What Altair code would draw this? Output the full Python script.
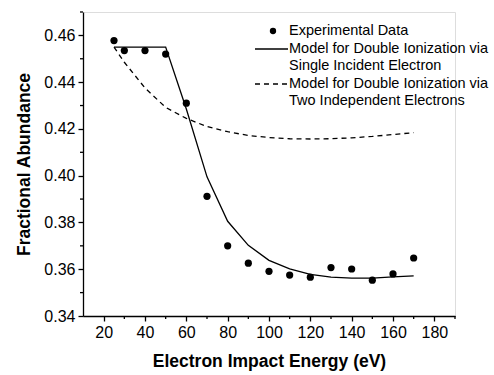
import altair as alt
import pandas as pd

# ---- data ----
energy = [25, 30, 40, 50, 60, 70, 80, 90, 100, 110, 120, 130, 140, 150, 160, 170]
experimental = [0.4578, 0.4535, 0.4535, 0.4520, 0.4310, 0.3912, 0.3700, 0.3626,
                0.3591, 0.3575, 0.3566, 0.3607, 0.3601, 0.3553, 0.3580, 0.3648]

single_x = [25, 50, 60, 70, 80, 90, 100, 110, 120, 130, 140, 150, 160, 170]
single_y = [0.4550, 0.4550, 0.4285, 0.3995, 0.3805, 0.3702, 0.3638, 0.3602,
            0.3578, 0.3566, 0.3562, 0.3562, 0.3567, 0.3572]

two_x = [25, 30, 40, 50, 60, 70, 80, 90, 100, 110, 120, 130, 140, 150, 160, 170]
two_y = [0.4550, 0.4485, 0.4375, 0.4292, 0.4245, 0.4210, 0.4188, 0.4172,
         0.4163, 0.4158, 0.4157, 0.4158, 0.4162, 0.4168, 0.4176, 0.4184]

x_major = [20, 40, 60, 80, 100, 120, 140, 160, 180]
x_minor = [30, 50, 70, 90, 110, 130, 150, 170, 190]
y_major = [0.34, 0.36, 0.38, 0.40, 0.42, 0.44, 0.46]
y_minor = [0.35, 0.37, 0.39, 0.41, 0.43, 0.45, 0.47]

legend_labels = ["Experimental Data",
                 "Model for Double Ionization via", "Single Incident Electron",
                 "Model for Double Ionization via", "Two Independent Electrons"]

FONT = "Liberation Sans"
W, H = 372, 304
XDOM = [10, 190]
YDOM = [0.34, 0.47]

xs = alt.Scale(domain=XDOM, nice=False, zero=False)
ys = alt.Scale(domain=YDOM, nice=False, zero=False)

xaxis = alt.Axis(values=x_major, title="Electron Impact Energy (eV)", grid=False,
                 labelFont=FONT, labelFontSize=16, labelColor="black",
                 titleFont=FONT, titleFontSize=17.5, titleFontWeight="bold", titleColor="black",
                 domainColor="black", domainWidth=1.3, tickColor="black", tickWidth=1.3,
                 tickSize=5, labelPadding=3, titlePadding=12)
yaxis = alt.Axis(values=y_major, format=".2f", title="Fractional Abundance", grid=False,
                 labelFont=FONT, labelFontSize=16, labelColor="black",
                 titleFont=FONT, titleFontSize=17.5, titleFontWeight="bold", titleColor="black",
                 domainColor="black", domainWidth=1.3, tickColor="black", tickWidth=1.3,
                 tickSize=5, labelPadding=3, titlePadding=10)

df_exp = pd.DataFrame({"E": energy, "A": experimental})
df_single = pd.DataFrame({"E": single_x, "A": single_y})
df_two = pd.DataFrame({"E": two_x, "A": two_y})

points = alt.Chart(df_exp).mark_circle(size=52, color="black", opacity=1).encode(
    x=alt.X("E:Q", scale=xs, axis=xaxis),
    y=alt.Y("A:Q", scale=ys, axis=yaxis),
)
single = alt.Chart(df_single).mark_line(color="black", strokeWidth=1.3).encode(
    x=alt.X("E:Q", scale=xs), y=alt.Y("A:Q", scale=ys))
two = alt.Chart(df_two).mark_line(color="black", strokeWidth=1.3, strokeDash=[5, 4]).encode(
    x=alt.X("E:Q", scale=xs), y=alt.Y("A:Q", scale=ys))

# minor ticks
xminor = alt.Chart(pd.DataFrame({"E": x_minor})).mark_rule(color="black", strokeWidth=1.3).encode(
    x=alt.X("E:Q", scale=xs), y=alt.value(H), y2=alt.value(H + 3))
yminor = alt.Chart(pd.DataFrame({"A": y_minor})).mark_rule(color="black", strokeWidth=1.3).encode(
    y=alt.Y("A:Q", scale=ys), x=alt.value(0), x2=alt.value(-3))

# legend (drawn manually)
one = pd.DataFrame({"k": [0]})
TX = 206
rows = [19, 37, 54, 72, 89]
leg_layers = []
for lab, ry in zip(legend_labels, rows):
    leg_layers.append(
        alt.Chart(pd.DataFrame({"t": [lab]})).mark_text(
            font=FONT, fontSize=14.5, align="left", baseline="middle", color="black"
        ).encode(text="t:N", x=alt.value(TX), y=alt.value(ry))
    )
leg_dot = alt.Chart(one).mark_circle(size=40, color="black", opacity=1).encode(
    x=alt.value(190), y=alt.value(rows[0]))
leg_solid = alt.Chart(one).mark_rule(color="black", strokeWidth=1.3).encode(
    x=alt.value(172), x2=alt.value(205), y=alt.value(rows[1]))
leg_dash = alt.Chart(one).mark_rule(color="black", strokeWidth=1.3, strokeDash=[5, 4]).encode(
    x=alt.value(172), x2=alt.value(205), y=alt.value(rows[3]))

chart = alt.layer(points, single, two, xminor, yminor, leg_dot, leg_solid, leg_dash,
                  *leg_layers).properties(
    width=W, height=H,
    autosize=alt.AutoSizeParams(type="none"),
    padding={"left": 83, "top": 12, "right": 494 - 83 - W, "bottom": 375 - 12 - H},
).configure_view(stroke=None).configure(background="white")

chart.save("out.html", embed_options={"renderer": "svg", "actions": False})
